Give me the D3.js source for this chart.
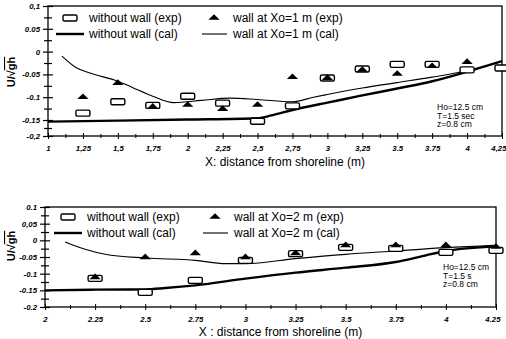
<!DOCTYPE html>
<html>
<head>
<meta charset="utf-8">
<script src="https://cdn.jsdelivr.net/npm/d3@7"></script>
<style>
  body { margin: 0; background: #fff; }
  svg { font-family: "Liberation Sans", Arial, sans-serif; }
  .tick text { font-size: 7.8px; font-weight: bold; font-style: italic; }
</style>
</head>
<body>
<svg id="viz" width="506" height="339"></svg>
<script>
// ---- top panel (wall at Xo=1 m) ----
const expX1 = [1.25, 1.5, 1.75, 2, 2.25, 2.5, 2.75, 3, 3.25, 3.5, 3.75, 4, 4.25]
const noWallExp1 = [-0.135, -0.11, -0.118, -0.098, -0.113, -0.154, -0.119, -0.058, -0.038, -0.028, -0.028, -0.04, -0.036]
const wallExpX1 = [1.25, 1.5, 1.75, 2, 2.25, 2.5, 2.75, 3, 3.25, 3.5, 3.75, 4]
const wallExp1 = [-0.1, -0.069, -0.121, -0.117, -0.126, -0.117, -0.056, -0.058, -0.04, -0.049, -0.032, -0.023]
const noWallCalX1 = [1, 1.5, 2, 2.5, 2.6, 2.75, 3, 3.25, 3.5, 3.75, 4, 4.25]
const noWallCal1 = [-0.155, -0.152, -0.149, -0.146, -0.14, -0.128, -0.112, -0.096, -0.081, -0.065, -0.044, -0.021]
const wallCalX1 = [1.1, 1.2, 1.3, 1.5, 1.6, 1.75, 1.9, 2.1, 2.3, 2.5, 2.75, 2.9, 3, 3.25, 3.5, 3.75, 4, 4.25]
const wallCal1 = [-0.01, -0.035, -0.047, -0.065, -0.078, -0.098, -0.112, -0.107, -0.102, -0.105, -0.11, -0.1, -0.094, -0.08, -0.068, -0.056, -0.042, -0.021]
const xTicks1 = [1, 1.25, 1.5, 1.75, 2, 2.25, 2.5, 2.75, 3, 3.25, 3.5, 3.75, 4, 4.25]
const xLabels1 = ['1', '1,25', '1,5', '1,75', '2', '2,25', '2,5', '2,75', '3', '3,25', '3.5', '3.75', '4', '4,25']
const yTicks1 = [0.1, 0.05, 0, -0.05, -0.1, -0.15, -0.2]
const yLabels1 = ['0,1', '0.05', '0', '-0.05', '-0.1', '-0.15', '-0,2']
const note1 = ['Ho=12.5 cm', 'T=1.5 sec', 'z=0.8 cm']

// ---- bottom panel (wall at Xo=2 m) ----
const expX2 = [2.25, 2.5, 2.75, 3, 3.25, 3.5, 3.75, 4, 4.25]
const noWallExp2 = [-0.114, -0.156, -0.12, -0.06, -0.04, -0.021, -0.024, -0.036, -0.03]
const wallExp2 = [-0.111, -0.051, -0.039, -0.051, -0.039, -0.015, -0.015, -0.015, -0.02]
const noWallCalX2 = [2, 2.25, 2.5, 2.6, 2.75, 3, 3.25, 3.5, 3.75, 3.9, 4, 4.25]
const noWallCal2 = [-0.15, -0.148, -0.147, -0.143, -0.135, -0.115, -0.097, -0.082, -0.065, -0.045, -0.032, -0.018]
const wallCalX2 = [2.1, 2.2, 2.3, 2.5, 2.75, 2.9, 3, 3.25, 3.5, 3.75, 4, 4.25]
const wallCal2 = [-0.005, -0.027, -0.042, -0.053, -0.06, -0.07, -0.07, -0.055, -0.042, -0.032, -0.022, -0.015]
const xTicks2 = [2, 2.25, 2.5, 2.75, 3, 3.25, 3.5, 3.75, 4, 4.25]
const xLabels2 = ['2', '2.25', '2.5', '2.75', '3', '3.25', '3.5', '3.75', '4', '4.25']
const yTicks2 = [0.1, 0.05, 0, -0.05, -0.1, -0.15, -0.2]
const yLabels2 = ['0.1', '0,05', '0', '-0.05', '-0.1', '-0.15', '-0.2']
const note2 = ['Ho=12.5 cm', 'T=1.5 s', 'z=0.8 cm']

const svg = d3.select('#viz')

drawPanel({
  left: 48, right: 502, top: 6, bottom: 136,
  xDomain: [1, 4.25],
  // scanned axis: the last step (-0.15 to -0.2) is drawn shorter
  yDomain: [-0.2, -0.15, 0.1], yRange: [136, 120, 6],
  xTicks: xTicks1, xLabels: xLabels1, yTicks: yTicks1, yLabels: yLabels1,
  rects: d3.zip(expX1, noWallExp1), tris: d3.zip(wallExpX1, wallExp1),
  thick: d3.zip(noWallCalX1, noWallCal1), thin: d3.zip(wallCalX1, wallCal1),
  wallName: 'wall at Xo=1 m', legendY: 18, legendX: 70, legendX2: 214,
  note: note1, noteX: 437, noteY: 110,
  xTitle: 'X: distance from shoreline (m)', xTitleY: 166, yTitleY: 72
})

drawPanel({
  left: 45, right: 496, top: 207, bottom: 307,
  xDomain: [2, 4.25],
  yDomain: [-0.2, 0.1], yRange: [307, 207],
  xTicks: xTicks2, xLabels: xLabels2, yTicks: yTicks2, yLabels: yLabels2,
  rects: d3.zip(expX2, noWallExp2), tris: d3.zip(expX2, wallExp2),
  thick: d3.zip(noWallCalX2, noWallCal2), thin: d3.zip(wallCalX2, wallCal2),
  wallName: 'wall at Xo=2 m', legendY: 217, legendX: 68, legendX2: 215,
  note: note2, noteX: 443, noteY: 270,
  xTitle: 'X : distance from shoreline (m)', xTitleY: 336, yTitleY: 246
})

function drawPanel (c) {
  const x = d3.scaleLinear().domain(c.xDomain).range([c.left, c.right])
  const y = d3.scaleLinear().domain(c.yDomain).range(c.yRange)
  const g = svg.append('g')

  // frame
  g.append('rect')
    .attr('x', c.left).attr('y', c.top)
    .attr('width', c.right - c.left).attr('height', c.bottom - c.top)
    .attr('fill', 'none').attr('stroke', '#000').attr('stroke-width', 1.3)

  // y axis, ticks cross the axis line
  const yMinor = d3.range(0, c.yTicks.length - 1).map(i => (c.yTicks[i] + c.yTicks[i + 1]) / 2)
  const yAx = g.append('g')
    .attr('transform', `translate(${c.left},0)`)
    .call(d3.axisLeft(y).tickValues(c.yTicks).tickSize(5).tickSizeOuter(0)
      .tickFormat((d, i) => c.yLabels[i]))
  yAx.selectAll('.tick line').attr('x1', 5).attr('stroke-width', 1.2)
  yAx.selectAll('.tick text').attr('x', -8)
  yAx.select('.domain').remove()
  const yMin = g.append('g')
    .attr('transform', `translate(${c.left},0)`)
    .call(d3.axisLeft(y).tickValues(yMinor).tickSize(4).tickFormat(''))
  yMin.selectAll('.tick line').attr('x1', 4).attr('stroke-width', 1.2)
  yMin.select('.domain').remove()

  // x axis
  const xMinor = d3.range(0, c.xTicks.length - 1).map(i => (c.xTicks[i] + c.xTicks[i + 1]) / 2)
  const xAx = g.append('g')
    .attr('transform', `translate(0,${c.bottom})`)
    .call(d3.axisBottom(x).tickValues(c.xTicks).tickSize(3).tickSizeOuter(0)
      .tickFormat((d, i) => c.xLabels[i]))
  xAx.selectAll('.tick line').attr('y1', -3)
  xAx.selectAll('.tick text').attr('y', 9)
  // keep the last label inside the page
  xAx.selectAll('.tick text').filter((d, i) => i === c.xTicks.length - 1)
    .attr('text-anchor', 'end').attr('x', 4)
  xAx.select('.domain').remove()
  const xMin = g.append('g')
    .attr('transform', `translate(0,${c.bottom})`)
    .call(d3.axisBottom(x).tickValues(xMinor).tickSize(2).tickFormat(''))
  xMin.selectAll('.tick line').attr('y1', -2)
  xMin.select('.domain').remove()

  // calculated lines
  const line = d3.line().x(d => x(d[0])).y(d => y(d[1])).curve(d3.curveMonotoneX)
  g.append('path').datum(c.thin).attr('d', line)
    .attr('fill', 'none').attr('stroke', '#000').attr('stroke-width', 1.1)
  g.append('path').datum(c.thick).attr('d', line)
    .attr('fill', 'none').attr('stroke', '#000').attr('stroke-width', 2.4)

  // experimental points
  g.selectAll('.rect-pt').data(c.rects).join('rect')
    .attr('class', 'rect-pt')
    .attr('x', d => x(d[0]) - 7).attr('y', d => y(d[1]) - 3)
    .attr('width', 14).attr('height', 6).attr('rx', 1.5)
    .attr('fill', '#fff').attr('stroke', '#000').attr('stroke-width', 1.4)
  const tri = d3.symbol().type(d3.symbolTriangle).size(28)
  g.selectAll('.tri-pt').data(c.tris).join('path')
    .attr('class', 'tri-pt')
    .attr('transform', d => `translate(${x(d[0])},${y(d[1])}) scale(1.4,0.8)`)
    .attr('d', tri).attr('fill', '#000')

  // legend
  const lg = g.append('g').style('font-size', '12px')
  const ly = c.legendY
  const ly2 = ly + 16
  lg.append('rect').attr('x', c.legendX - 7).attr('y', ly - 3).attr('width', 14).attr('height', 6)
    .attr('rx', 1.5).attr('fill', '#fff').attr('stroke', '#000').attr('stroke-width', 1.4)
  lg.append('text').attr('x', c.legendX + 19).attr('y', ly + 4).text('without wall (exp)')
  lg.append('path').attr('d', tri)
    .attr('transform', `translate(${c.legendX2},${ly}) scale(1.4,0.8)`).attr('fill', '#000')
  lg.append('text').attr('x', c.legendX2 + 19).attr('y', ly + 4).text(c.wallName + ' (exp)')
  lg.append('line').attr('x1', c.legendX - 14).attr('x2', c.legendX + 14)
    .attr('y1', ly2).attr('y2', ly2).attr('stroke', '#000').attr('stroke-width', 2.4)
  lg.append('text').attr('x', c.legendX + 19).attr('y', ly2 + 4).text('without wall (cal)')
  lg.append('line').attr('x1', c.legendX2 - 12).attr('x2', c.legendX2 + 13)
    .attr('y1', ly2).attr('y2', ly2).attr('stroke', '#000').attr('stroke-width', 1.1)
  lg.append('text').attr('x', c.legendX2 + 19).attr('y', ly2 + 4).text(c.wallName + ' (cal)')

  // conditions note
  g.append('g').selectAll('text').data(c.note).join('text')
    .attr('x', c.noteX).attr('y', (d, i) => c.noteY + i * 8.5)
    .style('font-size', '8.5px').text(d => d)

  // axis titles
  g.append('text').attr('x', (c.left + c.right) / 2 + 10).attr('y', c.xTitleY)
    .attr('text-anchor', 'middle').style('font-size', '12px').text(c.xTitle)
  const yt = g.append('text')
    .attr('transform', `translate(15,${c.yTitleY}) rotate(-90)`)
    .attr('text-anchor', 'middle').style('font-size', '11px').style('font-weight', 'bold')
  yt.append('tspan').text('U/√')
  yt.append('tspan').style('text-decoration', 'overline').text('gh')
}
</script>
</body>
</html>
